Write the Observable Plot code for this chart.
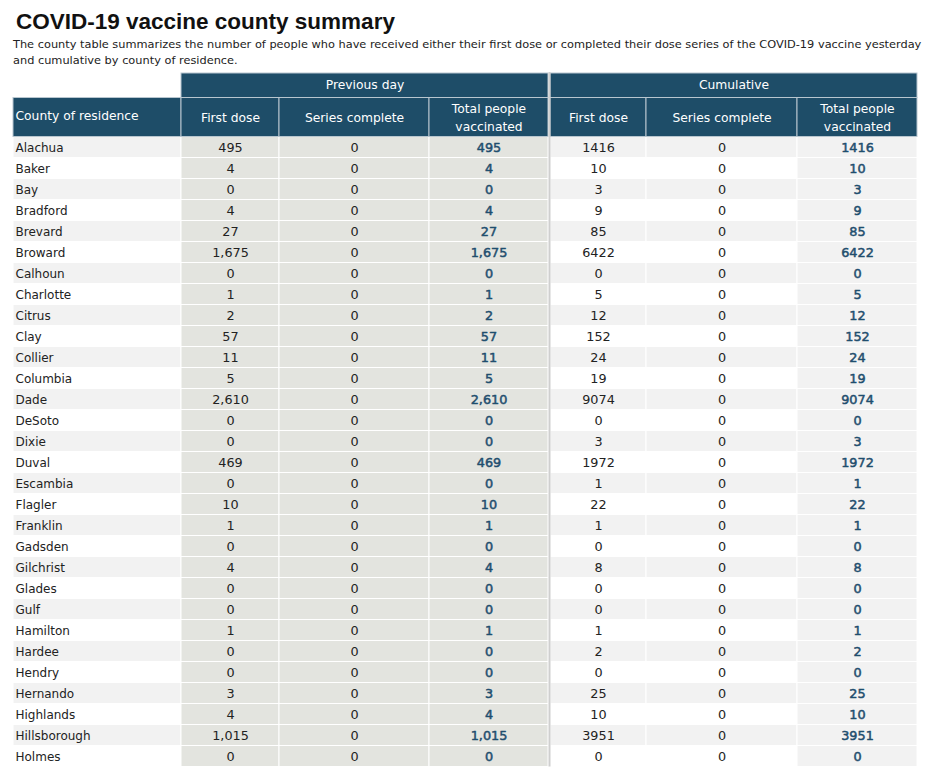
<!DOCTYPE html>
<html><head><meta charset="utf-8">
<script src="https://cdn.jsdelivr.net/npm/d3@7"></script>
<script src="https://cdn.jsdelivr.net/npm/@observablehq/plot@0.6"></script>
<style>
body{margin:0;background:#fff;width:931px;height:768px;overflow:hidden;position:relative}
#title{position:absolute;left:16px;top:9px;font:bold 22.5px/26px "Liberation Sans",Arial,sans-serif;color:#111;margin:0}
#sub{position:absolute;left:13px;top:35.5px;font:11.35px/16.6px "DejaVu Sans",sans-serif;color:#222;margin:0;white-space:nowrap}
#chart{position:absolute;left:0;top:72px}
</style></head><body>
<h1 id="title">COVID-19 vaccine county summary</h1>
<p id="sub">The county table summarizes the number of people who have received either their first dose or completed their dose series of the COVID-19 vaccine yesterday<br>and cumulative by county of residence.</p>
<div id="chart"></div>
<script>
// ---- data ----
const counties = ["Alachua","Baker","Bay","Bradford","Brevard","Broward","Calhoun","Charlotte","Citrus","Clay","Collier","Columbia","Dade","DeSoto","Dixie","Duval","Escambia","Flagler","Franklin","Gadsden","Gilchrist","Glades","Gulf","Hamilton","Hardee","Hendry","Hernando","Highlands","Hillsborough","Holmes"];
const prevFirstDose = [495,4,0,4,27,1675,0,1,2,57,11,5,2610,0,0,469,0,10,1,0,4,0,0,1,0,0,3,4,1015,0];
const prevSeriesComplete = [0,0,0,0,0,0,0,0,0,0,0,0,0,0,0,0,0,0,0,0,0,0,0,0,0,0,0,0,0,0];
const prevTotal = [495,4,0,4,27,1675,0,1,2,57,11,5,2610,0,0,469,0,10,1,0,4,0,0,1,0,0,3,4,1015,0];
const cumFirstDose = [1416,10,3,9,85,6422,0,5,12,152,24,19,9074,0,3,1972,1,22,1,0,8,0,0,1,2,0,25,10,3951,0];
const cumSeriesComplete = [0,0,0,0,0,0,0,0,0,0,0,0,0,0,0,0,0,0,0,0,0,0,0,0,0,0,0,0,0,0];
const cumTotal = [1416,10,3,9,85,6422,0,5,12,152,24,19,9074,0,3,1972,1,22,1,0,8,0,0,1,2,0,25,10,3951,0];
const groupLabels = ["Previous day","Cumulative"];
const columnLabels = ["County of residence","First dose","Series complete","Total people\nvaccinated","First dose","Series complete","Total people\nvaccinated"];

// ---- layout (pixels / row units) ----
const COL_X = [[13,181],[181,279],[279,429],[429,548],[550,646],[646,797],[797,917]];
const GROUP_X = [[181,548],[550,917]];
const SEP_X = 549;
const ROW_H = 21;
const TOP = -64.5/ROW_H;          // top of header row 1
const H1 = [-63.5/ROW_H, -39/ROW_H];
const H2 = [-39/ROW_H, 0];
const HEAD_BG = "#1e4d68", HEAD_LINE = "#b8c6cf";
const PREV_BG = "#e3e4df", ALT_BG = "#f2f2f2", BLUE = "#1f4e6e";
const FONT = "DejaVu Sans";
const NAME_FS = 12, NUM_FS = 12.8, HEAD_FS = 12.3;

const fmtComma = d3.format(",");
const fmtPlain = d => String(d);
const valueCols = [
  {vals: prevFirstDose, fmt: fmtComma, group: 0, total: false},
  {vals: prevSeriesComplete, fmt: fmtComma, group: 0, total: false},
  {vals: prevTotal, fmt: fmtComma, group: 0, total: true},
  {vals: cumFirstDose, fmt: fmtPlain, group: 1, total: false},
  {vals: cumSeriesComplete, fmt: fmtPlain, group: 1, total: false},
  {vals: cumTotal, fmt: fmtPlain, group: 1, total: true}
];

const cells = [], texts = [];
counties.forEach((name, i) => {
  const alt = i % 2 === 0;
  cells.push({x1: COL_X[0][0], x2: COL_X[0][1], y1: i, y2: i + 1, fill: alt ? ALT_BG : "#ffffff"});
  texts.push({x: COL_X[0][0] + 2, y: i + 0.5, label: name, kind: "name"});
  valueCols.forEach((c, j) => {
    const [a, b] = COL_X[j + 1];
    const fill = c.group === 0 ? PREV_BG : (c.total || alt ? ALT_BG : "#ffffff");
    cells.push({x1: a, x2: b, y1: i, y2: i + 1, fill});
    texts.push({x: (a + b) / 2, y: i + 0.5, label: c.fmt(c.vals[i]), kind: c.total ? "total" : "num"});
  });
});

const head1 = groupLabels.map((g, k) => ({x1: GROUP_X[k][0], x2: GROUP_X[k][1], label: g}));
const head2 = columnLabels.map((g, k) => ({x1: COL_X[k][0], x2: COL_X[k][1], label: g, left: k === 0}));

const chart = Plot.plot({
  width: 931, height: 696,
  marginTop: 0, marginBottom: 0, marginLeft: 0, marginRight: 0,
  x: {type: "identity", axis: null},
  y: {type: "linear", domain: [TOP, 30], range: [0, 694.5], axis: null},
  color: {type: "identity"},
  style: {fontFamily: FONT, background: "white"},
  marks: [
    Plot.rect(cells, {x1: "x1", x2: "x2", y1: "y1", y2: "y2", fill: "fill", stroke: "#ffffff", strokeWidth: 1}),
    Plot.rect(head1, {x1: "x1", x2: "x2", y1: () => H1[0], y2: () => H1[1], fill: HEAD_BG, stroke: HEAD_LINE, strokeWidth: 1}),
    Plot.rect(head2, {x1: "x1", x2: "x2", y1: () => H2[0], y2: () => H2[1], fill: HEAD_BG, stroke: HEAD_LINE, strokeWidth: 1}),
    Plot.ruleX([SEP_X], {y1: TOP, y2: 30, stroke: "#cfcfcf", strokeWidth: 2}),
    Plot.text(head1, {x: d => (d.x1 + d.x2) / 2, y: () => (H1[0] + H1[1]) / 2, dy: -1, text: "label", fill: "#ffffff", fontSize: HEAD_FS}),
    Plot.text(head2.filter(d => !d.left), {x: d => (d.x1 + d.x2) / 2, y: () => (H2[0] + H2[1]) / 2, dy: -1.5, text: "label", fill: "#ffffff", fontSize: HEAD_FS, lineHeight: 1.5}),
    Plot.text(head2.filter(d => d.left), {x: d => d.x1 + 2, y: () => (H2[0] + H2[1]) / 2, dy: -1.5, text: "label", fill: "#ffffff", fontSize: HEAD_FS, textAnchor: "start"}),
    Plot.text(texts.filter(d => d.kind === "name"), {x: "x", y: "y", dy: 0.7, text: "label", fill: "#222222", fontSize: NAME_FS, textAnchor: "start"}),
    Plot.text(texts.filter(d => d.kind === "num"), {x: "x", y: "y", dy: 0.4, text: "label", fill: "#222222", fontSize: NUM_FS}),
    Plot.text(texts.filter(d => d.kind === "total"), {x: "x", y: "y", dy: 0.4, text: "label", fill: BLUE, stroke: BLUE, strokeWidth: 0.5, fontSize: NUM_FS})
  ]
});
document.getElementById("chart").appendChild(chart);
</script>
</body></html>
